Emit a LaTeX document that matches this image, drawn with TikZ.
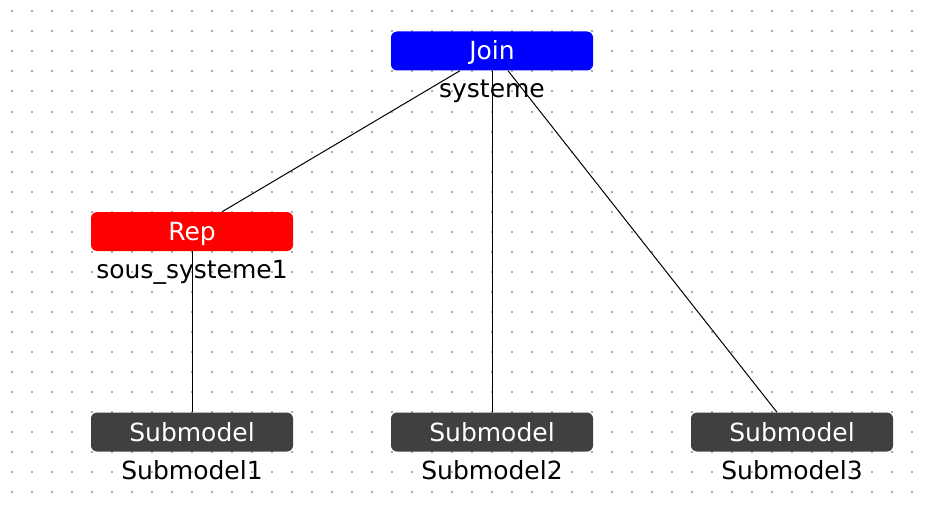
\documentclass[tikz,border=0pt]{standalone}
\usepackage{fontspec}
\setmainfont{DejaVu Sans}
\usetikzlibrary{calc}
\definecolor{joinblue}{RGB}{0,0,255}
\definecolor{repred}{RGB}{255,0,0}
\definecolor{subgray}{RGB}{64,64,64}
\definecolor{dotgray}{RGB}{170,170,170}
\begin{document}
\begin{tikzpicture}[x=1pt,y=-1pt,
  box/.style={rectangle, rounded corners=6pt, minimum width=202pt, minimum height=39pt,
    inner sep=0pt, text=white, font=\fontsize{25}{29}\selectfont, text height=18pt, text depth=0pt},
  lbl/.style={anchor=base, inner sep=0pt, font=\fontsize{25}{29}\selectfont, text=black},
  link/.style={draw=black, line width=1pt}]
\useasboundingbox (0,0) rectangle (927,511);
\fill[white] (0,0) rectangle (927,511);
% grid dots
\foreach \i in {0,...,45} {
  \foreach \j in {0,...,24} {
    \fill[dotgray] ({12+20*\i-1},{11.5+20*\j-1}) rectangle ++(2,2);
  }
}
% boxes
\node[box, fill=joinblue] (join) at (492,51) {Join};
\node[box, fill=repred] (rep) at (192,231.5) {Rep};
\node[box, fill=subgray] (sub1) at (192,432) {Submodel};
\node[box, fill=subgray] (sub2) at (492,432) {Submodel};
\node[box, fill=subgray] (sub3) at (792,432) {Submodel};
% connectors
\draw[link] ([xshift=-32pt]join.south) -- ([xshift=30pt]rep.north);
\draw[link] (join.south) -- (sub2.north);
\draw[link] ([xshift=16pt]join.south) -- ([xshift=-15pt]sub3.north);
\draw[link] (rep.south) -- (sub1.north);
% labels
\node[lbl] (ljoin) at (492,97) {systeme};
\node[lbl] (lrep) at (192,278) {sous\_systeme1};
\node[lbl] (lsub1) at (192,479) {Submodel1};
\node[lbl] (lsub2) at (492,479) {Submodel2};
\node[lbl] (lsub3) at (792,479) {Submodel3};
\end{tikzpicture}
\end{document}
